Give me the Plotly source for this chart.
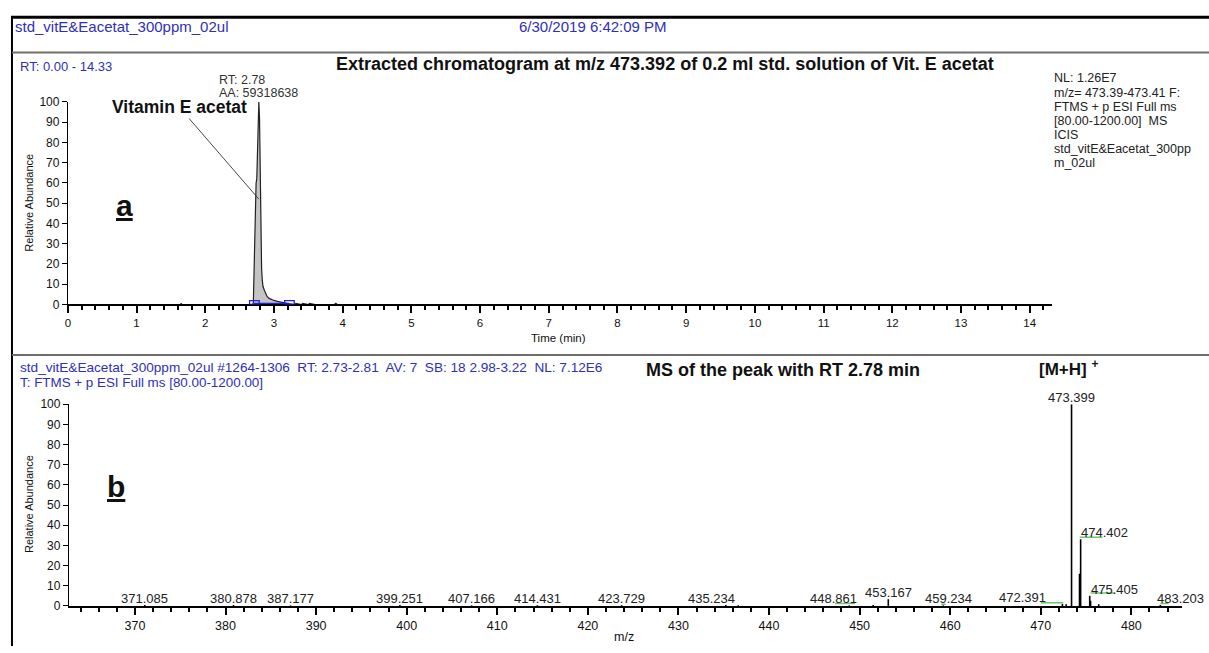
import plotly.graph_objects as go

# ---------------- data ----------------
# Extracted ion chromatogram, m/z 473.392 (retention time in min, relative abundance %)
rt_min = [0.00, 1.60, 1.64, 1.65, 1.66, 1.70, 2.60, 2.69, 2.70, 2.71, 2.72, 2.73, 2.74,
          2.75, 2.76, 2.77, 2.78, 2.79, 2.80, 2.81, 2.82, 2.83, 2.84, 2.86, 2.88,
          2.90, 2.93, 2.96, 3.00, 3.05, 3.10, 3.15, 3.20, 3.25, 3.30, 3.32, 3.40,
          3.42, 3.50, 3.52, 3.60, 3.88, 3.90, 3.92, 4.00, 14.33]
rel_abund = [0.0, 0.0, 0.0, 0.6, 0.0, 0.0, 0.0, 0.0, 1.0, 17.0, 18.0, 40.0, 60.0,
             62.0, 80.0, 91.0, 100.0, 92.0, 60.0, 35.0, 18.0, 12.0, 9.0, 7.0, 5.0,
             4.0, 3.0, 2.5, 2.0, 1.5, 1.0, 0.8, 0.5, 0.2, 0.0, 0.5, 0.0,
             0.5, 0.0, 0.5, 0.0, 0.0, 0.6, 0.0, 0.0, 0.0]
peak_rt = 2.78
peak_area = 59318638
peak_bounds = [2.71, 3.22]

# Mass spectrum of the peak at RT 2.78 min (m/z, relative abundance %)
ms_mz = [371.085, 380.878, 387.177, 399.251, 407.166, 414.431, 423.729, 435.234,
         436.600, 448.861, 451.500, 453.167, 459.234, 472.391, 472.800, 473.399,
         474.280, 474.402, 475.405, 475.500, 476.400, 483.203]
ms_int = [0.4, 0.4, 0.3, 0.4, 0.3, 0.4, 0.4, 0.4,
          0.4, 0.3, 0.4, 3.3, 0.3, 0.9, 0.8, 100.0,
          16.0, 33.0, 5.0, 2.5, 0.8, 0.4]
# labelled peaks: m/z and the height the label sits on (%)
ms_labels = [371.085, 380.878, 387.177, 399.251, 407.166, 414.431, 423.729, 435.234,
             448.861, 453.167, 459.234, 472.391, 473.399, 474.402, 475.405, 483.203]
ms_label_h = [0.4, 0.4, 0.3, 0.4, 0.3, 0.4, 0.4, 0.4,
              0.3, 3.3, 0.3, 0.9, 100.0, 33.0, 5.0, 0.4]
# flagged spans drawn in green under some labels: (m/z start, m/z end, level %)
flag_spans = [(447.3, 449.5, 1.2), (459.0, 459.5, 0.8), (470.0, 472.5, 1.6),
              (474.30, 476.80, 34.0), (475.50, 478.20, 6.4), (483.2, 484.1, 1.2)]

y_ticks = list(range(0, 101, 10))

# ---------------- page geometry ----------------
W, H = 1209, 653
FONT = "Arial, Liberation Sans, sans-serif"
BLUE = "#2f2fb8"
INK = "#111111"

# horizontal nudges (px) that keep crowded peak labels apart
label_xshift = {435.234: -14, 448.861: -16, 459.234: 5, 472.391: -40,
                474.402: 24, 475.405: 25, 483.203: 20}


def px(x):
    return x / W


def py(y):
    return 1 - y / H


fig = go.Figure()

# chromatogram trace
fig.add_trace(go.Scatter(
    x=rt_min, y=rel_abund, mode="lines", fill="tozeroy",
    fillcolor="#c4c4c4", line=dict(color="#222222", width=1.2),
    xaxis="x", yaxis="y", hoverinfo="skip", cliponaxis=False))

# integration baseline between peak boundaries
fig.add_trace(go.Scatter(
    x=peak_bounds, y=[0.35, 0.35], mode="lines",
    line=dict(color="#1f1fe0", width=2), xaxis="x", yaxis="y", hoverinfo="skip"))

# mass spectrum sticks
sx, sy = [], []
for m, v in zip(ms_mz, ms_int):
    sx += [m, m, None]
    sy += [0, v, None]
fig.add_trace(go.Scatter(
    x=sx, y=sy, mode="lines", line=dict(color="#000000", width=1.6),
    xaxis="x2", yaxis="y2", hoverinfo="skip", cliponaxis=False))

# green flag spans
gx, gy = [], []
for a, b, lv in flag_spans:
    gx += [a, b, None]
    gy += [lv, lv, None]
fig.add_trace(go.Scatter(
    x=gx, y=gy, mode="lines", line=dict(color="#6cc46c", width=1.5),
    xaxis="x2", yaxis="y2", hoverinfo="skip"))

# ---------------- shapes ----------------
shapes = []
# peak boundary markers
for b in peak_bounds:
    shapes.append(dict(type="rect", xref="x", yref="y", x0=b - 0.065, x1=b + 0.075,
                       y0=0, y1=1.9, line=dict(color="#1f1fe0", width=1.3)))
# frame lines
shapes += [
    dict(type="line", xref="paper", yref="paper", x0=px(8), x1=1, y0=py(10.5), y1=py(10.5),
         line=dict(color="#000000", width=3)),
    dict(type="line", xref="paper", yref="paper", x0=px(9), x1=px(9), y0=py(10), y1=0,
         line=dict(color="#000000", width=2)),
    dict(type="line", xref="paper", yref="paper", x0=px(9), x1=1, y0=py(46.5), y1=py(46.5),
         line=dict(color="#6e6e6e", width=2)),
    dict(type="line", xref="paper", yref="paper", x0=px(9), x1=1, y0=py(355.5), y1=py(355.5),
         line=dict(color="#6e6e6e", width=2)),
]

# ---------------- annotations ----------------
ann = []


def txt(x, y, s, size=12, color=INK, xanchor="left", yanchor="middle", **kw):
    ann.append(dict(x=px(x), y=py(y), xref="paper", yref="paper", text=s, showarrow=False,
                    font=dict(family=FONT, size=size, color=color),
                    xanchor=xanchor, yanchor=yanchor, **kw))


# header
txt(10, 20, "std_vitE&amp;Eacetat_300ppm_02ul", size=15, color=BLUE)
txt(668, 20, "6/30/2019 6:42:09 PM", size=15, color=BLUE, xanchor="right")

# panel a texts
txt(15, 61, "RT: 0.00 - 14.33", size=13, color=BLUE)
txt(332, 58, "<b>Extracted chromatogram at m/z 473.392 of 0.2 ml std. solution of Vit. E acetat</b>",
    size=18)
info_lines = ["NL: 1.26E7", "m/z= 473.39-473.41 F:", "FTMS + p ESI Full ms",
              "[80.00-1200.00]  MS", "ICIS", "std_vitE&amp;Eacetat_300pp", "m_02ul"]
for i, line in enumerate(info_lines):
    txt(1052, 73 + i * 14.4, line, size=12.5, color="#222222")
txt(122, 203, "<b><span style='text-decoration:underline'>a</span></b>", size=30,
    xanchor="center")
txt(26, 200, "Relative Abundance", size=11, textangle=-90, xanchor="center")
txt(557, 338, "Time (min)", size=11.5, xanchor="center")

# peak annotation (RT / area)
for yy, s in [(75, f"RT: {peak_rt:.2f}"), (88, f"AA: {peak_area}")]:
    ann.append(dict(x=peak_rt, y=py(yy), xref="x", yref="paper", xshift=-42,
                    text=s, showarrow=False, xanchor="left", yanchor="middle",
                    font=dict(family=FONT, size=12.5, color="#333333")))
# compound label with leader line
ann.append(dict(x=peak_rt, y=52, xref="x", yref="y", ax=1.62, ay=97.5, axref="x", ayref="y",
                text="<b>Vitamin E acetat</b>", showarrow=True, arrowhead=0,
                arrowwidth=0.9, arrowcolor="#333333",
                font=dict(family=FONT, size=17.5, color=INK)))

# panel b texts
txt(15, 368, "std_vitE&amp;Eacetat_300ppm_02ul #1264-1306  RT: 2.73-2.81  AV: 7  "
    "SB: 18 2.98-3.22  NL: 7.12E6", size=13.6, color=BLUE)
txt(15, 384, "T: FTMS + p ESI Full ms [80.00-1200.00]", size=13.4, color=BLUE)
txt(643, 371, "<b>MS of the peak with RT 2.78 min</b>", size=18)
txt(1037, 369, "<b>[M+H] <sup>+</sup></b>", size=17)
txt(113, 490, "<b><span style='text-decoration:underline'>b</span></b>", size=30,
    xanchor="center")
txt(26, 508, "Relative Abundance", size=11, textangle=-90, xanchor="center")
txt(623, 644, "m/z", size=12.5, xanchor="center")

# peak m/z labels
for m, h in zip(ms_labels, ms_label_h):
    ann.append(dict(x=m, y=h, xref="x2", yref="y2", text=f"{m:.3f}", showarrow=False,
                    xanchor="center", yanchor="bottom", yshift=-3,
                    xshift=label_xshift.get(m, 0),
                    font=dict(family=FONT, size=13, color="#222222")))

axis_common = dict(showgrid=False, zeroline=False, showline=True, linecolor="#000000",
                   ticks="outside", tickcolor="#000000")

fig.update_layout(
    width=W, height=H, margin=dict(l=0, r=0, t=0, b=0),
    paper_bgcolor="white", plot_bgcolor="white", showlegend=False,
    xaxis=dict(domain=[px(65), px(1052)], range=[0, 14.33], dtick=1, tick0=0,
               ticklen=7, tickwidth=1.5, linewidth=2, anchor="y",
               tickfont=dict(family=FONT, size=11.5, color=INK),
               minor=dict(dtick=0.2, tick0=0, ticklen=4, ticks="outside", tickcolor="#000000"),
               **axis_common),
    yaxis=dict(domain=[py(304), py(97)], range=[0, 100], tickvals=y_ticks, ticklen=5,
               linewidth=1, anchor="x", tickfont=dict(family=FONT, size=12, color=INK),
               **axis_common),
    xaxis2=dict(domain=[px(66), px(1182)], range=[362.7, 485.6], dtick=10, tick0=370,
                ticklen=7, tickwidth=1.5, linewidth=2, anchor="y2",
                tickfont=dict(family=FONT, size=12.5, color=INK),
                minor=dict(dtick=2, tick0=370, ticklen=4, ticks="outside", tickcolor="#000000"),
                **axis_common),
    yaxis2=dict(domain=[py(612), py(406)], range=[0, 100], tickvals=y_ticks, ticklen=5,
                linewidth=1, anchor="x2", tickfont=dict(family=FONT, size=12, color=INK),
                **axis_common),
    shapes=shapes, annotations=ann,
)

fig.write_html("out.html")
